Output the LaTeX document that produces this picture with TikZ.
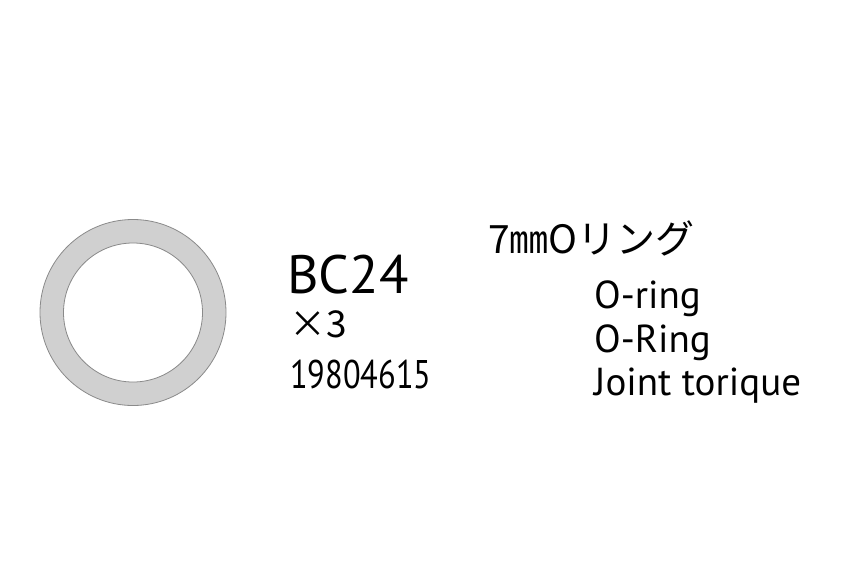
\documentclass[tikz,border=0pt]{standalone}
\usepackage{fontspec}
\setmainfont{PT Sans}
\newfontfamily\jafont{Noto Sans CJK JP}
\newfontfamily\numfont[FakeStretch = 0.81]{PT Sans}
\usepackage{tikz}
\usetikzlibrary{positioning}
\definecolor{ringfill}{HTML}{D0D0D0}
\definecolor{ringline}{HTML}{8A8A8A}
\tikzset{
    lbl/.style = {anchor = base west, inner sep = 0pt},
    big/.style = {lbl, font = \fontsize{54}{54}\selectfont},
    mid/.style = {lbl, font = \fontsize{39}{39}\selectfont},
    jap/.style = {lbl, font = \jafont\fontsize{39}{39}\selectfont}
}

\begin{document}
\begin{tikzpicture}[x = 1pt, y = -1pt]
    \useasboundingbox (0, 0) rectangle (859, 573);
    \draw[draw = ringline, fill = ringfill, even odd rule, line width = 0.8pt]
        (133, 312.5) circle (93)
        (133, 312.5) circle (69.5);

    \draw
        (287, 293) node[big] (code) {BC24}
        (289, 337) node[jap, font = \jafont\fontsize{37}{37}\selectfont] (qty) {×3}
        (290, 388) node[mid, font = \numfont\fontsize{40}{40}\selectfont] (num) {19804615}

        (488, 253) node[jap] (ja) {7㎜Oリング}
        (594, 308) node[mid] (en) {O-ring}
        (594, 352) node[mid] (de) {O-Ring}
        (594, 395) node[mid] (fr) {Joint torique}
    ;
\end{tikzpicture}
\end{document}
